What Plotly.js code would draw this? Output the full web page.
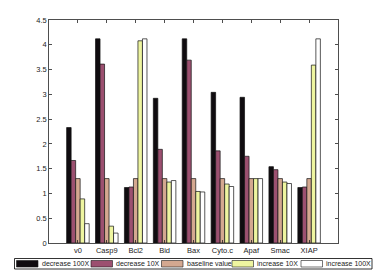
<!DOCTYPE html>
<html>
<head>
<meta charset="utf-8">
<script src="https://cdn.plot.ly/plotly-3.0.1.min.js"></script>
<style>html,body{margin:0;padding:0;background:#fff;}#chart{width:374px;height:274px;}</style>
</head>
<body>
<div id="chart"></div>
<script>
var categories = ["v0", "Casp9", "Bcl2", "Bid", "Bax", "Cyto.c", "Apaf", "Smac", "XIAP"];
var seriesNames = ["decrease 100X", "decrease 10X", "baseline value", "increase 10X", "increase 100X"];
var seriesColors = ["#100c10", "#9c5070", "#d4a890", "#eef5a0", "#ffffff"];
var decrease100X = [2.33, 4.12, 1.12, 2.92, 4.12, 3.04, 2.94, 1.54, 1.12];
var decrease10X  = [1.665, 3.61, 1.13, 1.89, 3.69, 1.86, 1.75, 1.48, 1.13];
var baseline     = [1.30, 1.30, 1.30, 1.30, 1.30, 1.30, 1.30, 1.30, 1.30];
var increase10X  = [0.89, 0.34, 4.08, 1.23, 1.04, 1.19, 1.30, 1.23, 3.59];
var increase100X = [0.39, 0.20, 4.12, 1.26, 1.03, 1.14, 1.30, 1.20, 4.12];
var yTicks = [0, 0.5, 1, 1.5, 2, 2.5, 3, 3.5, 4, 4.5];
var yTickLabels = ["0", "0.5", "1", "1.5", "2", "2.5", "3", "3.5", "4", "4.5"];

var seriesValues = [decrease100X, decrease10X, baseline, increase10X, increase100X];
var xpos = categories.map(function(c, i){ return i + 1; });

var traces = seriesValues.map(function(vals, k){
  return {
    type: "bar", x: xpos, y: vals, name: seriesNames[k],
    marker: {color: seriesColors[k], line: {color: "#111", width: 0.7}},
    showlegend: false, hoverinfo: "skip"
  };
});

var W = 374, H = 274, L = 49, R = 36, T = 20, B = 31;
var pw = W - L - R, ph = H - T - B;
function px2x(p){ return (p - L) / pw; }
function py2y(p){ return (H - B - p) / ph; }

var shapes = [];
var annotations = [];
// legend box
shapes.push({type: "rect", xref: "paper", yref: "paper", x0: px2x(14.5), x1: px2x(372), y0: py2y(258.5), y1: py2y(269), line: {color: "#000", width: 0.8}, fillcolor: "rgba(0,0,0,0)"});
var swX = [16.5, 91, 161.5, 232, 301];
seriesNames.forEach(function(n, k){
  shapes.push({type: "rect", xref: "paper", yref: "paper", x0: px2x(swX[k]), x1: px2x(swX[k] + 21.5), y0: py2y(260.5), y1: py2y(267), line: {color: "#1a1a1a", width: 0.6}, fillcolor: seriesColors[k]});
  annotations.push({xref: "paper", yref: "paper", x: px2x(swX[k] + 23), y: py2y(263.8), xanchor: "left", yanchor: "middle", text: n, showarrow: false, font: {size: 7, color: "#222", family: "Liberation Sans, Arial, sans-serif"}});
});

var layout = {
  width: W, height: H,
  margin: {l: L, r: R, t: T, b: B, pad: 0},
  paper_bgcolor: "#fff", plot_bgcolor: "#fff",
  barmode: "group", bargap: 0.22, bargroupgap: 0,
  font: {family: "Liberation Sans, Arial, sans-serif", size: 8, color: "#222"},
  xaxis: {
    range: [0, 10], tickmode: "array", tickvals: xpos, ticktext: categories,
    ticks: "inside", ticklen: 3, tickcolor: "#222", tickwidth: 0.8,
    showline: true, linecolor: "#222", linewidth: 0.8, mirror: "ticks",
    showgrid: false, zeroline: false, tickfont: {size: 7.5, color: "#222"}
  },
  yaxis: {
    range: [0, 4.5], tickmode: "array", tickvals: yTicks, ticktext: yTickLabels,
    ticks: "inside", ticklen: 3, tickcolor: "#222", tickwidth: 0.8,
    showline: true, linecolor: "#222", linewidth: 0.8, mirror: "ticks",
    showgrid: false, zeroline: false, tickfont: {size: 7.5, color: "#222"}
  },
  shapes: shapes,
  annotations: annotations,
  showlegend: false
};

Plotly.newPlot("chart", traces, layout, {staticPlot: true, displayModeBar: false});
</script>
</body>
</html>
